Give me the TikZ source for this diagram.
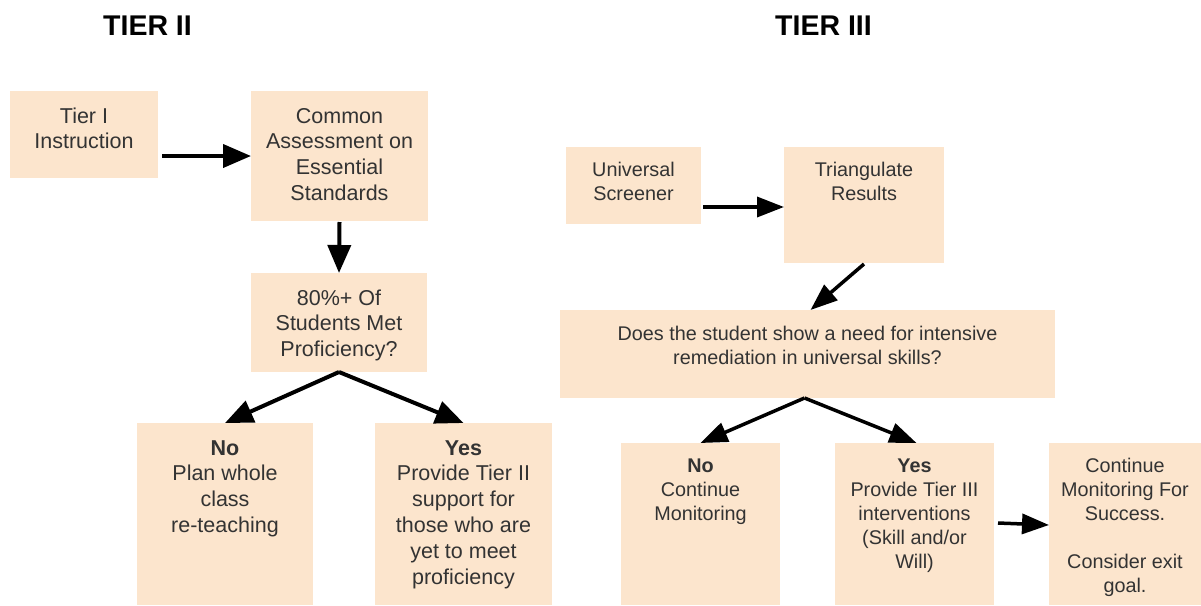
\documentclass[tikz,border=0pt]{standalone}
\usepackage{fontspec}
\setmainfont{Liberation Sans}
\usetikzlibrary{arrows.meta}
\definecolor{boxfill}{HTML}{FCE5CD}
\definecolor{boxtext}{HTML}{333333}

\tikzset{
  box/.style={draw=none, fill=boxfill, inner sep=0pt, outer sep=0pt, anchor=north west},
  txtA/.style={anchor=north, inner sep=0pt, align=center, text=boxtext,
               font=\fontsize{21.5}{25.8}\selectfont},
  txtB/.style={anchor=north, inner sep=0pt, align=center, text=boxtext,
               font=\fontsize{19.8}{24}\selectfont},
  heading/.style={anchor=base, inner sep=0pt, text=black,
               font=\fontsize{28.5}{32}\selectfont\bfseries},
  arrA/.style={line width=4pt, -{Triangle[length=28pt,width=23pt]}},
  arrB/.style={line width=3.5pt, -{Triangle[length=27pt,width=20pt]}},
}

\begin{document}
\begin{tikzpicture}[x=1pt, y=-1pt]
\useasboundingbox (0,0) rectangle (1201,605);

% ---------- headings ----------
\node[heading] (h2) at (147.5,35) {TIER II};
\node[heading] (h3) at (823.5,35) {TIER III};

% ---------- Tier II boxes ----------
\node[box, minimum width=148pt, minimum height=87pt]  (t1)  at (10,91)  {};
\node[box, minimum width=177pt, minimum height=130pt] (cm)  at (251,91) {};
\node[box, minimum width=176pt, minimum height=99pt]  (pf)  at (251,273) {};
\node[box, minimum width=176pt, minimum height=182pt] (no2) at (137,423) {};
\node[box, minimum width=177pt, minimum height=182pt] (ye2) at (375,423) {};

\node[txtA] (t1t)  at ([yshift=-13.9pt]t1.north)  {\strut Tier I\\Instruction};
\node[txtA] (cmt)  at ([yshift=-13.9pt]cm.north)  {\strut Common\\Assessment on\\Essential\\Standards};
\node[txtA] (pft)  at ([yshift=-13.9pt]pf.north)  {\strut 80\%+ Of\\Students Met\\Proficiency?};
\node[txtA] (no2t) at ([yshift=-13.9pt]no2.north) {\strut\textbf{No}\\Plan whole\\class\\re-teaching};
\node[txtA] (ye2t) at ([yshift=-13.9pt]ye2.north) {\strut\textbf{Yes}\\Provide Tier II\\support for\\those who are\\yet to meet\\proficiency};

% ---------- Tier III boxes ----------
\node[box, minimum width=135pt, minimum height=77pt]  (us)  at (566,147) {};
\node[box, minimum width=160pt, minimum height=116pt] (tr)  at (784,147) {};
\node[box, minimum width=495pt, minimum height=88pt]  (dq)  at (560,310) {};
\node[box, minimum width=159pt, minimum height=162pt] (no3) at (621,443) {};
\node[box, minimum width=159pt, minimum height=162pt] (ye3) at (835,443) {};
\node[box, minimum width=152pt, minimum height=162pt] (ct)  at (1049,443) {};

\node[txtB] (ust)  at ([yshift=-12.2pt]us.north)  {\strut Universal\\Screener};
\node[txtB] (trt)  at ([yshift=-12.2pt]tr.north)  {\strut Triangulate\\Results};
\node[txtB] (dqt)  at ([yshift=-13.2pt]dq.north)  {\strut Does the student show a need for intensive\\remediation in universal skills?};
\node[txtB] (no3t) at ([yshift=-12.2pt]no3.north) {\strut\textbf{No}\\Continue\\Monitoring};
\node[txtB] (ye3t) at ([yshift=-12.2pt]ye3.north) {\strut\textbf{Yes}\\Provide Tier III\\interventions\\(Skill and/or\\Will)};
\node[txtB] (ctt)  at ([yshift=-12.2pt]ct.north)  {\strut Continue\\Monitoring For\\Success.\\~\\Consider exit\\goal.};

% ---------- Tier II connectors ----------
\coordinate (a1s) at ([xshift=4pt,yshift=-21.5pt]t1.east);
\draw[arrA] (a1s) -- (a1s -| cm.west);
\draw[arrA] ([yshift=-1pt]cm.south) -- (pf.north);
\draw[arrA] (pf.south) -- (no2.north);
\draw[arrA] (pf.south) -- (ye2.north);

% ---------- Tier III connectors ----------
\coordinate (a5s) at ([xshift=2pt,yshift=-21.5pt]us.east);
\draw[arrB] (a5s) -- (a5s -| tr.west);
\draw[arrB] ([yshift=-1pt]tr.south) -- ([xshift=3pt]dq.north);
\coordinate (dqb) at ([xshift=-3pt]dq.south);
\draw[arrB] (dqb) -- (no3.north);
\draw[arrB] (dqb) -- ([xshift=2pt]ye3.north);
\draw[arrB] ([xshift=4pt,yshift=1pt]ye3.east) -- ([yshift=-1pt]ct.west);
\end{tikzpicture}
\end{document}
